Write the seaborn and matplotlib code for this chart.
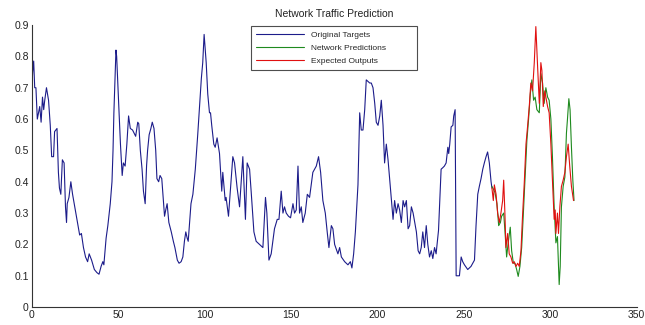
import matplotlib
matplotlib.use("Agg")
import matplotlib.pyplot as plt
import pandas as pd
import seaborn as sns

# values
target_x = [0, 0.6, 1.2, 1.8, 2.5, 3.3, 4.0, 4.7, 5.5, 6.3, 7.0, 7.6, 8.6, 9.8, 10.8,
            11.6, 12.7, 13.3, 14.7, 15.5, 16.1, 16.9, 17.8, 18.8, 19.6, 20.2, 20.6,
            21.6, 22.7, 23.7, 25.3, 26.9, 27.8, 28.8, 30.0, 31.2, 32.4, 33.3, 34.7,
            36.3, 37.8, 39.0, 40.2, 41.2, 41.8, 43.1, 44.1, 45.5, 46.5, 47.1, 47.6,
            48.2, 48.8, 49.2, 49.8, 50.6, 51.4, 52.4, 53.1, 54.1, 55.1, 56.1, 57.1,
            58.4, 60.2, 61.4, 62.0, 62.9, 63.9, 64.7, 65.7, 66.5, 67.1, 68.0, 69.0,
            69.8, 70.8, 71.8, 72.5, 73.5, 74.3, 75.3, 76.1, 76.9, 77.6, 78.4, 79.4,
            80.8, 82.0, 82.9, 84.3, 85.3, 86.5, 87.5, 88.4, 89.2, 90.0, 90.6, 91.4,
            92.2, 93.3, 94.7, 96.1, 97.3, 98.2, 99.0, 99.8,
            101.0, 101.9, 102.9, 103.5, 104.2, 105.4, 106.2, 107.3, 108.7, 110.0,
            110.6, 112.0, 112.5, 113.9, 116.4, 117.4, 118.9, 120.3, 122.2, 122.8,
            123.7, 124.7, 126.1, 127.0, 128.6, 129.9, 133.8, 135.3, 136.1, 137.3,
            138.6, 140.5, 142.1, 143.1, 144.4, 145.4, 146.3, 147.3, 148.6, 149.8,
            151.2, 152.1, 153.1, 154.1, 155.0, 156.0, 156.9, 158.3, 159.5, 160.8,
            162.7, 164.7, 166.0, 167.2, 168.5, 169.9, 171.0, 172.0, 173.4, 174.3,
            175.3, 177.2, 178.2, 179.2, 181.1, 183.0, 184.4, 185.3, 186.3, 187.3,
            188.8, 189.8, 190.7, 191.7, 192.7, 193.6, 195.6, 196.5, 197.5, 198.5,
            199.4, 200.4, 201.4, 202.3, 203.3, 204.2, 205.2, 206.2, 207.1, 209.1,
            210.0, 211.0, 212.0, 212.9, 213.9, 214.9, 215.8, 216.8, 217.8, 218.7,
            219.7, 220.7, 222.6, 223.6, 224.5,
            225.4, 226.3, 227.3, 228.3, 229.2, 230.2, 231.2, 232.1, 233.1, 234.0,
            235.4, 236.0, 236.9, 237.9, 238.8, 239.8, 240.4, 240.8, 241.3, 241.9,
            242.7, 243.7, 244.2, 245.0, 245.6, 247.5, 248.5, 249.4, 250.4, 252.3,
            254.2, 255.2, 256.2, 257.1, 258.1, 259.0, 260.0, 261.0, 261.9, 262.9,
            263.8, 264.8, 265.8, 266.3]
target_y = [0.68, 0.75, 0.785, 0.70, 0.70, 0.60, 0.62, 0.64, 0.59, 0.67, 0.63, 0.66,
            0.70, 0.66, 0.58, 0.48, 0.48, 0.56, 0.57, 0.43, 0.38, 0.36, 0.47, 0.46,
            0.32, 0.27, 0.33, 0.35, 0.40, 0.36, 0.31, 0.26, 0.23, 0.235, 0.19, 0.16,
            0.145, 0.17, 0.15, 0.12, 0.11, 0.105, 0.13, 0.145, 0.135, 0.22, 0.26,
            0.33, 0.40, 0.50, 0.62, 0.72, 0.82, 0.80, 0.72, 0.62, 0.52, 0.42, 0.46,
            0.45, 0.52, 0.61, 0.57, 0.565, 0.545, 0.59, 0.585, 0.50, 0.44, 0.37,
            0.33, 0.45, 0.50, 0.55, 0.57, 0.59, 0.57, 0.50, 0.41, 0.40, 0.42, 0.41,
            0.35, 0.29, 0.31, 0.33, 0.27, 0.24, 0.21, 0.19, 0.15, 0.14, 0.145, 0.16,
            0.21, 0.24, 0.22, 0.21, 0.27, 0.33, 0.36, 0.44, 0.55, 0.65, 0.73, 0.78,
            0.87,
            0.78, 0.68, 0.62, 0.62, 0.58, 0.52, 0.51, 0.54, 0.49, 0.37, 0.43, 0.34,
            0.35, 0.29, 0.48, 0.46, 0.38, 0.32, 0.48, 0.40, 0.28, 0.46, 0.44, 0.37,
            0.24, 0.21, 0.19, 0.35, 0.30, 0.15, 0.17, 0.25, 0.28, 0.28, 0.37, 0.30,
            0.32, 0.30, 0.29, 0.285, 0.33, 0.30, 0.31, 0.45, 0.30, 0.32, 0.27, 0.30,
            0.36, 0.35, 0.43, 0.45, 0.48, 0.43, 0.34, 0.30, 0.24, 0.19, 0.26, 0.25,
            0.20, 0.17, 0.19, 0.16, 0.145, 0.135, 0.145, 0.125, 0.17, 0.24, 0.39,
            0.62, 0.565, 0.565, 0.63, 0.725, 0.715, 0.715, 0.70, 0.65, 0.59, 0.58,
            0.61, 0.66, 0.58, 0.46, 0.52, 0.47, 0.41, 0.28, 0.34, 0.30, 0.33, 0.31,
            0.27, 0.34, 0.32, 0.34, 0.25, 0.26, 0.32, 0.30, 0.24, 0.18, 0.17,
            0.19, 0.24, 0.19, 0.26, 0.20, 0.16, 0.18, 0.155, 0.19, 0.17, 0.245, 0.32,
            0.44, 0.445, 0.45, 0.46, 0.49, 0.51, 0.49, 0.52, 0.575, 0.58, 0.61, 0.63,
            0.10, 0.10, 0.16, 0.145, 0.135, 0.12, 0.13, 0.14, 0.15, 0.26, 0.36, 0.385,
            0.41, 0.44, 0.46, 0.48, 0.495, 0.46, 0.40, 0.38]

pred_x = [266.3, 267.3, 268.1, 269.2, 270.2, 271.2, 271.9, 273.1, 273.8, 274.8,
          275.8, 276.9, 277.7, 278.7, 279.6, 280.6, 281.5, 282.5, 283.5, 284.4,
          285.4, 286.5, 287.5, 288.5, 289.4, 290.4, 291.3, 292.3, 293.7, 294.6,
          295.6, 296.5, 297.5, 298.5, 299.4, 300.4, 301.3, 302.3, 303.3, 304.2,
          305.2, 305.8, 306.5, 307.5, 308.5, 309.4, 310.0, 310.8, 311.5, 312.3,
          313.1, 313.8]
pred_y = [0.385, 0.375, 0.365, 0.33, 0.26, 0.27, 0.29, 0.30, 0.245, 0.16, 0.21,
          0.255, 0.18, 0.14, 0.14, 0.12, 0.098, 0.13, 0.19, 0.29, 0.405, 0.53,
          0.60, 0.68, 0.725, 0.66, 0.67, 0.63, 0.62, 0.745, 0.715, 0.65, 0.70,
          0.67, 0.66, 0.60, 0.48, 0.32, 0.205, 0.225, 0.072, 0.13, 0.32, 0.385,
          0.415, 0.555, 0.60, 0.665, 0.63, 0.51, 0.405, 0.34]

expected_x = [266.3, 267.1, 267.7, 268.7, 269.6, 270.6, 271.5, 272.5, 273.1, 273.8,
              274.4, 275.4, 276.3, 277.3, 278.3, 279.2, 280.2, 281.2, 282.1, 283.1,
              284.0, 285.0, 286.0, 286.9, 287.9, 288.8, 289.8, 290.8, 291.7, 292.7,
              293.7, 294.6, 295.2, 296.0, 296.9, 297.5, 298.5, 299.4, 300.4, 301.3,
              302.3, 302.9, 303.3, 304.2, 304.8, 305.6, 306.5, 307.5, 308.5, 309.4,
              310.4, 311.3, 312.3, 313.5]
expected_y = [0.38, 0.34, 0.39, 0.36, 0.30, 0.27, 0.30, 0.34, 0.405, 0.30, 0.19,
              0.235, 0.17, 0.16, 0.14, 0.145, 0.13, 0.14, 0.13, 0.18, 0.29, 0.395,
              0.52, 0.575, 0.64, 0.715, 0.69, 0.78, 0.895, 0.77, 0.65, 0.78, 0.755,
              0.64, 0.69, 0.67, 0.64, 0.62, 0.52, 0.405, 0.28, 0.31, 0.235, 0.30,
              0.235, 0.32, 0.385, 0.405, 0.43, 0.48, 0.52, 0.45, 0.385, 0.34]

series_labels = ["Original Targets", "Network Predictions", "Expected Outputs"]
x_ticks = [0, 50, 100, 150, 200, 250, 300, 350]
y_ticks = [0, 0.1, 0.2, 0.3, 0.4, 0.5, 0.6, 0.7, 0.8, 0.9]
y_tick_labels = ["0", "0.1", "0.2", "0.3", "0.4", "0.5", "0.6", "0.7", "0.8", "0.9"]

df = pd.concat([
    pd.DataFrame({"x": target_x, "y": target_y, "series": series_labels[0]}),
    pd.DataFrame({"x": pred_x, "y": pred_y, "series": series_labels[1]}),
    pd.DataFrame({"x": expected_x, "y": expected_y, "series": series_labels[2]}),
], ignore_index=True)

sns.set_style("white")
plt.rcParams["font.family"] = ["Liberation Sans", "DejaVu Sans"]
plt.rcParams["xtick.direction"] = "in"
plt.rcParams["ytick.direction"] = "in"

fig = plt.figure(figsize=(6.45, 3.25), dpi=100)
ax = fig.add_axes([0.049, 0.055, 0.938, 0.868])

palette = {"Original Targets": "#1c1c8a", "Network Predictions": "#1e8a1e",
           "Expected Outputs": "#e01010"}
sns.lineplot(data=df, x="x", y="y", hue="series", palette=palette, hue_order=series_labels,
             estimator=None, sort=False, linewidth=0.8, ax=ax)

ax.set_xlim(0, 350)
ax.set_ylim(0, 0.9)
ax.set_xticks(x_ticks)
ax.set_yticks(y_ticks)
ax.set_yticklabels(y_tick_labels)
ax.tick_params(axis="both", labelsize=7.5, length=3, width=0.6, color="#333333",
               labelcolor="#222222", pad=2)
ax.set_xlabel("")
ax.set_ylabel("")
for side in ["top", "right"]:
    ax.spines[side].set_visible(False)
for side in ["left", "bottom"]:
    ax.spines[side].set_color("#333333")
    ax.spines[side].set_linewidth(0.8)
ax.set_title("Network Traffic Prediction", fontsize=7.5, pad=6, color="#222222")

# legend box spans px 251-417 horizontally in the reference
leg = ax.legend(loc="upper left",
                bbox_to_anchor=(251 / 645, 1 - 71 / 325, 166 / 645, 45 / 325),
                bbox_transform=fig.transFigure, mode="expand", fontsize=6,
                frameon=True, fancybox=False, handlelength=5.7, borderpad=0.6,
                labelspacing=0.65, handletextpad=0.9, borderaxespad=0)
leg.get_frame().set_edgecolor("#222222")
leg.get_frame().set_linewidth(0.8)
for line in leg.get_lines():
    line.set_linewidth(0.8)

fig.savefig("out.png", dpi=100)
